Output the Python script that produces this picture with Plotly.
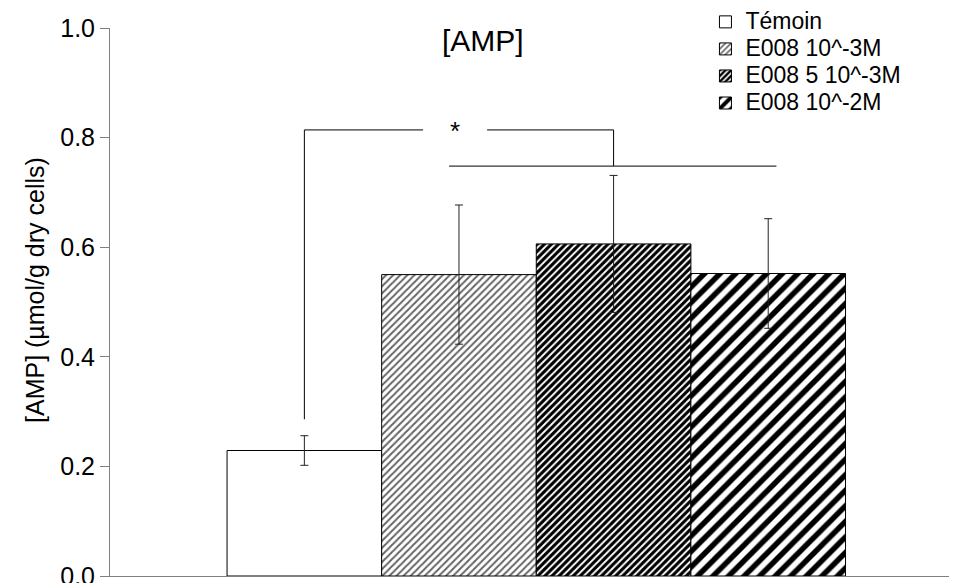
import plotly.graph_objects as go

# ---- data ----
series_names = ["Témoin", "E008 10^-3M", "E008 5 10^-3M", "E008 10^-2M"]
positions = [1, 2, 3, 4]
amp_values = [0.229, 0.550, 0.606, 0.552]
amp_errors = [0.027, 0.127, 0.125, 0.100]

# significance bracket (data units)
sig_left, sig_right = 1, 3
sig_low_left = 0.286
sig_top = 0.814
sig_bar_y = 0.748
sig_bar_x = [1.936, 4.053]
sig_gap = [1.768, 2.182]
sig_label = "*"

y_ticks = [0, 0.2, 0.4, 0.6, 0.8, 1.0]
y_tick_labels = ["0.0", "0.2", "0.4", "0.6", "0.8", "1.0"]

# ---- styles ----
patterns = [
    dict(shape=""),
    dict(shape="/", size=5, solidity=0.4, fgcolor="#666666", bgcolor="white", fgopacity=1),
    dict(shape="/", size=5, solidity=0.62, fgcolor="black", bgcolor="white", fgopacity=1),
    dict(shape="/", size=11, solidity=0.5, fgcolor="black", bgcolor="white", fgopacity=1),
]

fig = go.Figure()
for name, xp, v, e, pat in zip(series_names, positions, amp_values, amp_errors, patterns):
    fig.add_trace(go.Bar(
        x=[xp], y=[v],
        name='<span style="font-size:23px">' + name + '</span>',
        width=1,
        marker=dict(color="white", pattern=pat, line=dict(color="black", width=1)),
        error_y=dict(type="data", array=[e], visible=True, color="#222", thickness=1, width=4),
    ))

line_style = dict(color="black", width=1)
shapes = [
    dict(type="line", xref="x", yref="y", x0=sig_left, x1=sig_left, y0=sig_low_left, y1=sig_top, line=line_style),
    dict(type="line", xref="x", yref="y", x0=sig_left, x1=sig_gap[0], y0=sig_top, y1=sig_top, line=line_style),
    dict(type="line", xref="x", yref="y", x0=sig_gap[1], x1=sig_right, y0=sig_top, y1=sig_top, line=line_style),
    dict(type="line", xref="x", yref="y", x0=sig_right, x1=sig_right, y0=sig_top, y1=sig_bar_y, line=line_style),
    dict(type="line", xref="x", yref="y", x0=sig_bar_x[0], x1=sig_bar_x[1], y0=sig_bar_y, y1=sig_bar_y, line=line_style),
]

font_family = "Liberation Sans, Arial, sans-serif"

# page body has an 8px default margin; size the figure so the plot area lands where the reference has it
fig.update_layout(
    width=949, height=575,
    margin=dict(l=102, r=0, t=20, b=7, autoexpand=False),
    paper_bgcolor="white", plot_bgcolor="white",
    font=dict(family=font_family, color="black"),
    barmode="overlay",
    showlegend=True,
    legend=dict(x=0.703, y=1.045, xanchor="left", yanchor="top",
                font=dict(size=18.5), bgcolor="rgba(0,0,0,0)", tracegroupgap=0),
    shapes=shapes,
    annotations=[
        dict(text=sig_label, x=sum(sig_gap) / 2, y=sig_top, xref="x", yref="y",
             showarrow=False, font=dict(size=26), yanchor="middle", yshift=-1),
        dict(text="[AMP]", x=0.44, y=0.978, xref="paper", yref="paper",
             showarrow=False, font=dict(size=30), yanchor="middle"),
        dict(text="[AMP] (µmol/g dry cells)", x=-0.0885, y=0.522, xref="paper", yref="paper",
             showarrow=False, textangle=-90, font=dict(size=25),
             xanchor="center", yanchor="middle"),
    ],
    xaxis=dict(range=[-0.257, 5.221], showticklabels=False, ticks="",
               showline=True, linecolor="#808080", linewidth=1, showgrid=False, zeroline=False),
    yaxis=dict(range=[0, 1.0], tickvals=y_ticks, ticktext=y_tick_labels,
               tickfont=dict(size=25), ticks="outside", ticklen=9, tickcolor="#808080",
               ticklabeloverflow="allow",
               showline=True, linecolor="#808080", linewidth=1, showgrid=False, zeroline=False),
)

fig.write_html("out.html")
